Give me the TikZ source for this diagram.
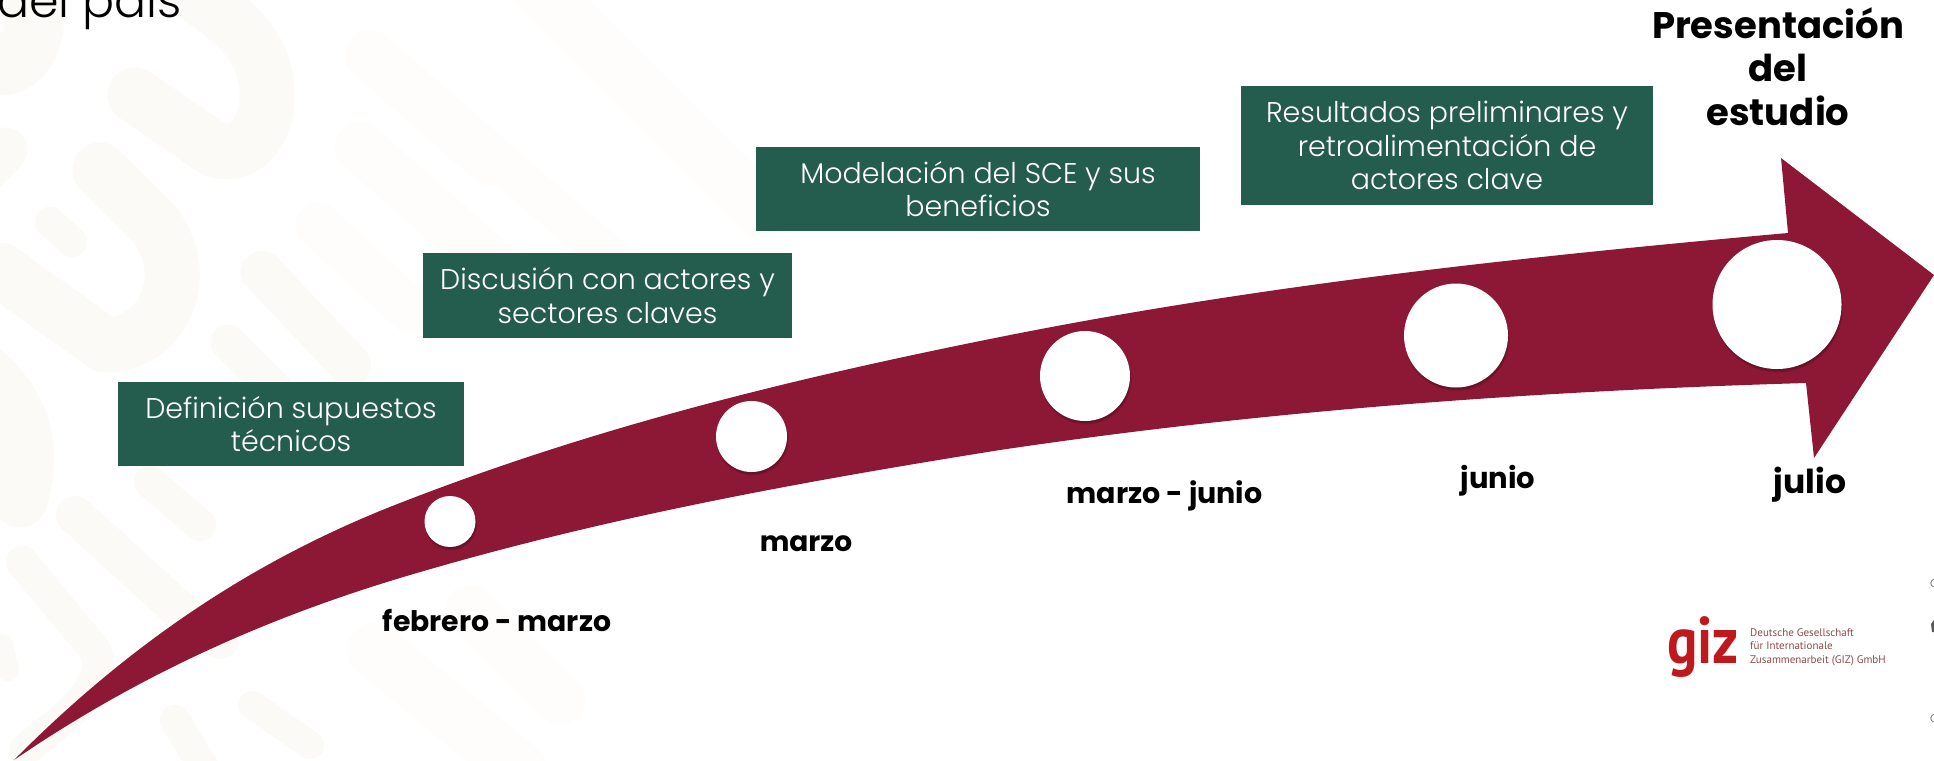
\documentclass[tikz,border=0pt]{standalone}
\usepackage{fontspec}
\setmainfont{Poppins Light}[BoldFont={Poppins Bold}]
\newfontfamily\logofont{PT Sans}
\definecolor{wine}{HTML}{8C1836}
\definecolor{pine}{HTML}{245C4E}
\definecolor{bgA}{HTML}{FCFAF7}
\definecolor{bgB}{HTML}{FEFDFB}
\definecolor{gizred}{HTML}{BE1A1E}
\definecolor{gizline}{HTML}{8E4A4E}
\tikzset{
  x=1pt,y=-1pt,
  stripe/.style={draw=bgA,line cap=round,line join=round},
  stripeb/.style={draw=bgB,line cap=round,line join=round},
  greenbox/.style={fill=pine,text=white,inner sep=0pt,align=center,anchor=center,
    font=\fontsize{28.5}{33.5}\selectfont},
  month/.style={text=black,inner sep=0pt,anchor=base,font=\fontsize{#1}{30}\selectfont\bfseries},
  spot/.style={circle,fill=white,inner sep=0pt},
}
\begin{document}
\begin{tikzpicture}
\useasboundingbox (0,0) rectangle (1934,760);
\clip (0,0) rectangle (1934,760);
\fill[white] (0,0) rectangle (1934,760);
% faint background pattern
\draw[stripe,line width=55] (135,95) -- (215,150) .. controls (265,165) and (290,80) .. (240,30) .. controls (220,10) and (190,-10) .. (170,-20);
\draw[stripe,line width=60] (-20,60) .. controls (20,80) and (45,40) .. (30,-20);
\draw[stripe,line width=55] (100,170) -- (155,225) .. controls (195,280) and (160,345) .. (105,345) -- (0,270);
\draw[stripe,line width=30] (50,222) -- (72,242);
\draw[stripe,line width=45] (-15,170) -- (5,150);
\draw[stripe,line width=55] (-30,360) .. controls (10,390) and (40,430) .. (20,500);
\draw[stripeb,line width=50] (370,55) -- (490,160);
\draw[stripeb,line width=50] (360,147) -- (500,270);
\draw[stripeb,line width=45] (318,225) -- (410,310);
\draw[stripe,line width=42] (262,272) -- (350,365);
\draw[stripe,line width=35] (228,342) -- (285,400);
\draw[stripe,line width=38] (75,515) -- (185,615) -- (220,640);
\draw[stripe,line width=32] (22,562) -- (95,650) .. controls (110,690) and (60,720) .. (25,750);
\draw[stripe,line width=32] (150,482) -- (200,525);
\draw[stripe,line width=28] (252,705) -- (310,745);
\draw[stripe,line width=30] (175,720) -- (205,770);
\draw[stripe,line width=22] (2,645) -- (8,670);
\draw[stripeb,line width=55] (375,650) -- (520,770);
\draw[stripeb,line width=50] (470,610) -- (560,700);
\draw[stripeb,line width=40] (405,80) -- (660,300);
\draw[stripeb,line width=55] (540,-10) -- (760,210);
% arrow
\fill[wine] (14,760)
  .. controls (143,630) and (271,553) .. (400,503)
  .. controls (600,425) and (800,377) .. (1000,337)
  .. controls (1263,284.5) and (1525,256.6) .. (1788,233)
  -- (1781,158) -- (1934,275) -- (1814,458) -- (1806,383)
  .. controls (1537,391) and (1269,410) .. (1000,450)
  .. controls (800,482) and (600,518) .. (400,578)
  .. controls (271,617) and (143,672) .. (14,760) -- cycle;
% circles
\foreach \n/\cx/\cy/\r in {1/450/521.5/25.5, 2/751.5/436.5/35.5, 3/1085/376/45, 4/1456/335.5/52, 5/1777/304.5/64.5}{
  \fill[black,opacity=.12] (\cx+1,\cy+3) circle[radius=\r+.5];
  \fill[black,opacity=.15] (\cx+.7,\cy+2) circle[radius=\r];
  \node[spot,minimum size=2*\r] (c\n) at (\cx,\cy) {};
}
% boxes
\node[greenbox,minimum width=346,minimum height=84] (b1) at (291,424) {Definición supuestos\\técnicos};
\node[greenbox,minimum width=369,minimum height=85] (b2) at (607.5,295.5) {Discusión con actores y\\sectores claves};
\node[greenbox,minimum width=444,minimum height=84] (b3) at (978,189) {Modelación del SCE y sus\\beneficios};
\node[greenbox,minimum width=412,minimum height=119] (b4) at (1447,145.5) {Resultados preliminares y\\retroalimentación de\\actores clave};
% month labels
\node[month=28.3] (m1) at (497,631) {febrero - marzo};
\node[month=28] (m2) at (806,551) {marzo};
\node[month=28.5] (m3) at (1164.5,503) {marzo - junio};
\node[month=29] (m4) at (1498,488) {junio};
\node[month=33] (m5) at (1810,493) {julio};
% title
\node[text=black,inner sep=0pt,align=center,anchor=base,font=\fontsize{37}{43.5}\selectfont\bfseries] (t1) at (1778,125) {Presentación\\del\\estudio};
% cropped heading
\node[text=black,inner sep=0pt,anchor=base east,font=\fontsize{47.5}{50}\selectfont] (h) at (182,18) {del país};
% logo
\node[text=gizred,inner sep=0pt,anchor=base,xscale=.86,font=\logofont\fontsize{66}{66}\selectfont\bfseries] (giz) at (1703,663) {giz};
\node[text=gizline,inner sep=0pt,anchor=base west,align=left,font=\logofont\fontsize{11}{13.2}\selectfont] (gt) at (1750,663) {Deutsche Gesellschaft\\für Internationale\\Zusammenarbeit (GIZ) GmbH};
% cropped marks at right edge
\node[text=black!70,inner sep=0pt,anchor=west,font=\fontsize{11}{11}\selectfont] (e1) at (1930,584) {C};
\node[text=black!70,inner sep=0pt,anchor=west,font=\fontsize{11}{11}\selectfont] (e3) at (1930,719) {C};
\fill[black!65] (1934,620) -- (1931,624) -- (1932,632) -- (1934,632) -- cycle;
\end{tikzpicture}
\end{document}
